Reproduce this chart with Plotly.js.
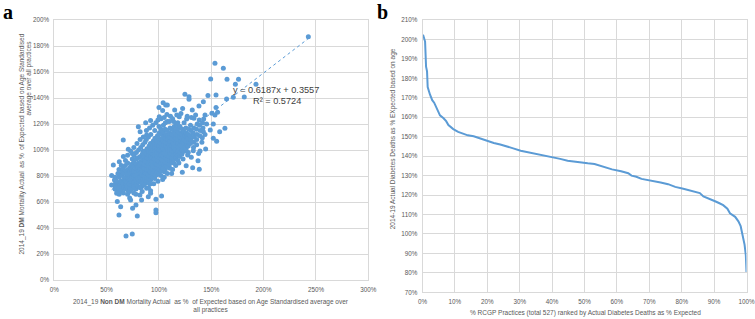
<!DOCTYPE html>
<html>
<head>
<meta charset="utf-8">
<script src="https://cdn.plot.ly/plotly-3.0.1.min.js"></script>
<style>html,body{margin:0;padding:0;background:#fff;}#chart{width:755px;height:319px;}</style>
</head>
<body>
<div id="chart"></div>
<script>
// ---------- Panel a: Non-DM vs DM mortality (% of expected) ----------
const nonDmPct = [
  // outliers / sparse points
  242.7,153.5,161.5,149.4,165,176,173,192.7,154.5,146.8,171,181.5,164.6,124.8,128.7,128.7,142.4,138.2,154.5,150.6,
  153.5,144,156,131.8,122.6,115,104,106.4,108,100,107.6,119.4,126.4,133.4,138.5,142.7,145.5,151.9,163,158,
  149,142.4,151.9,141.4,126.4,116.9,155.1,144.6,137.9,139.2,132.8,127.4,137.3,130.9,132.2,138.5,126,122.3,112.1,110.5,
  105.1,101.9,103.5,97.8,91.4,87.6,83.4,88.2,92,92,102.5,97.1,89.8,81.8,83.4,72.9,78,74.8,97.1,97.1,
  79.3,61.8,63.4,60.2,59.6,62.1,58,54.8,54.8,56.4,58,62.1,65.9,70.7,74.5,68.2,68.5,74.5,80.3,87.3,
  92,82,88.2,100.3,103.5,
  // periphery of the core
  66,70,73,76,79,82,85,88,91,94,97,99,102,105,108,111,113,117,121,124,127,131,135,
  72,78,84,90,95,99,105,108,113,116,119,123,128,133,136,141,144,
  64,68,85,62,118,114,
  // dense core
  58,58.5,57.5,
  60,60.5,59.5,60.8,
  62,61.5,62.5,62,61.8,
  64,64.5,63.5,64.2,64.8,
  66,66.3,65.7,66.5,66,65.8,
  68,68.4,67.6,68.2,68.7,67.9,
  70,70.5,69.6,70.2,70.8,69.8,70.4,70.1,
  72,72.3,71.7,72.5,72.1,71.8,72.6,
  74,74.4,73.8,74.2,74.6,73.6,74.1,74.5,
  76,76.3,75.8,76.5,76.1,75.7,76.4,76,76.2,
  78,78.5,77.7,78.2,78.6,77.9,78.3,78.1,78.4,
  80,80.4,79.7,80.2,80.6,79.8,80.3,80.1,80.5,
  82,82.3,81.8,82.5,82.1,81.7,82.4,82.2,82.6,
  84,84.4,83.7,84.2,84.6,83.8,84.3,84.1,84.5,
  86,86.3,85.8,86.5,86.1,85.7,86.4,86,86.2,86.6,
  88,88.4,87.7,88.2,88.6,87.8,88.3,88.1,88.5,87.9,
  90,90.3,89.8,90.5,90.1,89.7,90.4,90,90.2,90.6,89.9,
  92,92.4,91.7,92.2,92.6,91.8,92.3,92.1,92.5,91.9,92.2,
  94,94.3,93.8,94.5,94.1,93.7,94.4,94,94.2,94.6,
  96,96.4,95.7,96.2,96.6,95.8,96.3,96.1,96.5,95.9,96.2,96,
  98,98.3,97.8,98.5,98.1,97.7,98.4,98,98.2,98.6,
  100,100.4,99.7,100.2,100.6,99.8,100.3,100.1,100.5,99.9,100.2,100,
  102,102.3,101.8,102.5,102.1,101.7,102.4,102,102.2,102.6,101.9,
  104,104.4,103.7,104.2,104.6,103.8,104.3,104.1,104.5,103.9,104.2,
  106,106.3,105.8,106.5,106.1,105.7,106.4,106,106.2,106.6,105.9,106.1,
  108,108.4,107.7,108.2,108.6,107.8,108.3,108.1,108.5,107.9,
  110,110.3,109.8,110.5,110.1,109.7,110.4,110,110.2,110.6,109.9,
  112,112.4,111.7,112.2,112.6,111.8,112.3,112.1,112.5,
  114,114.3,113.8,114.5,114.1,113.7,114.4,114,114.2,114.6,
  116,116.4,115.7,116.2,116.6,115.8,116.3,116.1,116.5,
  118,118.3,117.8,118.5,118.1,117.7,118.4,118,118.2,
  120,120.4,119.7,120.2,120.6,119.8,120.3,120.1,
  122,122.3,121.8,122.5,122.1,121.7,122.4,
  124,124.4,123.7,124.2,124.6,123.8,
  126,126.3,125.8,126.5,126.1,125.7,
  128,128.4,127.7,128.2,128.6,
  130,130.3,129.8,130.5,130.1,
  133,133.4,132.7,133.2,
  136,136.3,135.8,136.5,
  139,139.4,138.7,
  142,141.6
];
const dmPct = [
  187.2,166.7,162.8,154.6,154.4,154.4,150.5,150.5,142.3,142,140.5,140.8,139.2,142.8,141,139,137.2,133.8,132.6,128.2,
  126.9,126.9,129,130.8,132,130.8,136.4,134.6,134.6,132.6,127.4,125.6,123.8,124.4,123,123.8,120,120,116.7,114.1,
  115.4,114.1,109,109.5,110.3,114.1,106.7,100.8,97.4,99.2,99.5,96.2,91.8,94.4,86.4,85.1,87.9,82.8,82,85.9,
  83.3,80.3,77.4,80.8,73.8,74.9,71.8,70.5,68.7,66.7,64.6,62.1,64.1,65.4,61.5,61.5,57.7,55.1,53.8,51.8,
  49.2,50,56.4,60.3,66.7,68.7,72.3,73.1,80.3,88.5,79,91,107.7,100.5,97.4,83.3,33.8,35.4,117.9,121,
  122.6,114.1,111.5,125.6,130.3,
  95,96,99,102,105,108,110,115,117,119,121,123,124,125,122,126,124,127,128,121,126,125,127,
  63,66,68,71,74,76,79,82,85,88,90,93,98,102,104,106,112,
  88,92,99,81,121,122,
  70,74.5,77,
  68,72,76,82,
  66,70.5,74,79,85,
  69,72,76,80.5,83,
  67,71,74.5,78,82,86,
  70,73,76.5,79,84,88,
  66,69,72,75,78,81.5,85,90,
  68,71,74,77.5,80,83,87,
  70,73,76,79,82.5,85,89,93,
  67,72,75,78,81,84,87.5,91,96,
  70,74,77,80,83,86,89,93,98,
  72,75,78.5,81,84,87,90,94,100,
  71,76,79,82,85,88,91,95,102,
  74,78,81,84,87,90,93,97,104,
  73,77,80,83,86,89,92,95,99,106,
  76,79,82,85,88,91,94,97,101,108,
  75,78,81,84,87,90,93,96,99,103,110,
  77,80,83,86,89,92,95,98,101,105,112,
  79,82,85,88,91,94,97,100,103,107,
  78,81,84,87,90,93,96,99,102,105,109,115,
  83,86,89,92,95,98,101,104,107,111,
  82,85,88,91,94,97,100,103,106,109,113,118,
  84,87,90,93,96,99,102,105,108,112,116,
  86,89,92,95,98,101,104,107,110,114,119,
  85,88,91,94,97,100,103,106,109,112,116,121,
  87,90,93,96,99,102,105,108,111,115,
  89,92,95,98,101,104,107,110,113,117,122,
  91,94,97,100,103,106,109,112,116,
  90,93,96,99,102,105,108,111,114,118,
  94,97,100,103,106,109,112,115,120,
  92,96,99,102,105,108,111,114,117,
  95,98,101,104,107,110,113,118,
  97,100,103,106,109,112,116,
  99,102,105,108,111,114,
  101,104,107,110,113,117,
  103,106,109,112,116,
  105,108,111,115,119,
  106,110,113,117,
  108,112,116,120,
  111,115,119,
  117,121
];
// Trendline coefficients as printed on the chart (fractions -> applied in % units)
const trendSlope = 0.6187;
const trendIntercept = 0.3557;
const trendText = "y = 0.6187x + 0.3557";
const r2Text = "R² = 0.5724";

// ---------- Panel b: ranked curve ----------
const rankPct = [0,0.25,0.8,1.1,1.4,1.6,2.3,3.0,3.6,4.4,5.4,6.5,7.3,8.0,8.5,9.5,11,12.6,14,15.8,17.5,18.9,20.5,22,24,26.1,28,30.3,33,36.5,40.6,42.5,44.8,46.8,48.9,51,53.1,54.5,56.2,58.5,61.3,63.5,64.5,66,67.6,69.5,71.7,73.5,75.8,78,80.5,82.6,85.6,86.7,88.5,90.3,91.5,92.8,94.1,94.9,96.5,97.5,98.2,98.8,99.4,99.8,100];
const deathsPct = [202.3,202,198.9,186,183.6,175.5,171.7,168.8,167.5,164.4,161,159.5,158,156,155.2,153.9,152.5,151.4,150.7,150.2,149.2,148.5,147.8,146.8,146,145.1,144,142.8,141.9,140.5,139.5,138.6,137.6,137.1,136.6,136.3,136,135.2,134.2,133.2,132.2,131.2,130,129.4,128.3,127.8,127.1,126.5,125.6,124.2,123.2,122.2,121,119.3,118.2,116.8,115.9,114.8,113,110.6,108.8,106.5,104,99.5,94.5,89,80.4];

const xTicksA = [0,50,100,150,200,250,300];
const yTicksA = [0,20,40,60,80,100,120,140,160,180,200];
const xTicksB = [0,10,20,30,40,50,60,70,80,90,100];
const yTicksB = [70,80,90,100,110,120,130,140,150,160,170,180,190,200,210];

const blue = '#5b9bd5';
const grid = '#d9d9d9';
const tickCol = '#595959';
const FONT = 'Liberation Sans, Arial, sans-serif';

const xMin = Math.min(...nonDmPct), xMax = Math.max(...nonDmPct);
const trendX = [xMin, xMax];
const trendY = trendX.map(v => trendSlope * v + trendIntercept * 100);

const traces = [
  {x: nonDmPct, y: dmPct, type: 'scatter', mode: 'markers', xaxis: 'x', yaxis: 'y',
   marker: {color: blue, size: 5, line: {width: 0}}, hoverinfo: 'x+y'},
  {x: trendX, y: trendY, type: 'scatter', mode: 'lines', xaxis: 'x', yaxis: 'y',
   line: {color: blue, width: 1, dash: 'dot'}},
  {x: rankPct, y: deathsPct, type: 'scatter', mode: 'lines', xaxis: 'x2', yaxis: 'y2',
   line: {color: blue, width: 2}}
];

function ax(ticks, extra) {
  return Object.assign({
    showgrid: true, gridcolor: grid, gridwidth: 1,
    showline: true, mirror: true, linecolor: grid, linewidth: 1,
    zeroline: false, ticks: '', tickmode: 'array',
    tickvals: ticks, ticktext: ticks.map(v => v + '%'),
    tickfont: {family: FONT, size: 6.3, color: tickCol},
    ticklabelstandoff: 3, ticklabeloverflow: 'allow',
    fixedrange: true
  }, extra);
}

const P = (px) => px / 755;
const Q = (py) => 1 - py / 319;

const layout = {
  width: 755, height: 319,
  margin: {l: 0, r: 0, t: 0, b: 0},
  paper_bgcolor: '#ffffff', plot_bgcolor: '#ffffff',
  showlegend: false,
  font: {family: FONT, color: tickCol},
  xaxis: ax(xTicksA, {domain: [P(54.3), P(368.3)], range: [0, 300], anchor: 'y'}),
  yaxis: ax(yTicksA, {domain: [Q(280), Q(20)], range: [0, 200], anchor: 'x'}),
  xaxis2: ax(xTicksB, {domain: [P(422.5), P(746.5)], range: [0, 100], anchor: 'y2'}),
  yaxis2: ax(yTicksB, {domain: [Q(292.3), Q(20)], range: [70, 210], anchor: 'x2'}),
  annotations: [
    {text: '<b>a</b>', xref: 'paper', yref: 'paper', x: P(8), y: Q(12), xanchor: 'center', yanchor: 'middle',
     showarrow: false, font: {family: 'Liberation Serif, DejaVu Serif, serif', size: 20, color: '#000'}},
    {text: '<b>b</b>', xref: 'paper', yref: 'paper', x: P(383), y: Q(12), xanchor: 'center', yanchor: 'middle',
     showarrow: false, font: {family: 'Liberation Serif, DejaVu Serif, serif', size: 20, color: '#000'}},
    {text: trendText, xref: 'x', yref: 'y', x: 212, y: 146.3, showarrow: false,
     font: {family: FONT, size: 9.2, color: '#404040'}},
    {text: r2Text, xref: 'x', yref: 'y', x: 212.5, y: 137.5, showarrow: false,
     font: {family: FONT, size: 9.2, color: '#404040'}},
    // panel a axis titles
    {text: '2014_19 <b>DM</b> Mortality Actual  as %  of Expected based on Age Standardised', xref: 'paper', yref: 'paper',
     x: P(21.5), y: Q(144), textangle: -90, showarrow: false, xanchor: 'center', yanchor: 'middle',
     font: {family: FONT, size: 6.5, color: tickCol}},
    {text: 'average over all practices', xref: 'paper', yref: 'paper',
     x: P(28.5), y: Q(78), textangle: -90, showarrow: false, xanchor: 'center', yanchor: 'middle',
     font: {family: FONT, size: 6.5, color: tickCol}},
    {text: '2014_19 <b>Non DM</b> Mortality Actual  as %  of Expected based on Age Standardised average over<br>all practices',
     xref: 'paper', yref: 'paper', x: P(211), y: Q(305.5), showarrow: false, xanchor: 'center', yanchor: 'middle',
     align: 'center', font: {family: FONT, size: 6.5, color: tickCol}},
    // panel b axis titles
    {text: '2014-19 Actual Diabetes Deaths as % EXpected based on age', xref: 'paper', yref: 'paper',
     x: P(393.3), y: Q(139), textangle: -90, showarrow: false, xanchor: 'center', yanchor: 'middle',
     font: {family: FONT, size: 6.5, color: tickCol}},
    {text: '% RCGP Practices (total 527) ranked by Actual Diabetes Deaths as % Expected', xref: 'paper', yref: 'paper',
     x: P(585), y: Q(312.5), showarrow: false, xanchor: 'center', yanchor: 'middle',
     font: {family: FONT, size: 6.5, color: tickCol}}
  ]
};

Plotly.newPlot('chart', traces, layout, {displayModeBar: false, staticPlot: true});
</script>
</body>
</html>
